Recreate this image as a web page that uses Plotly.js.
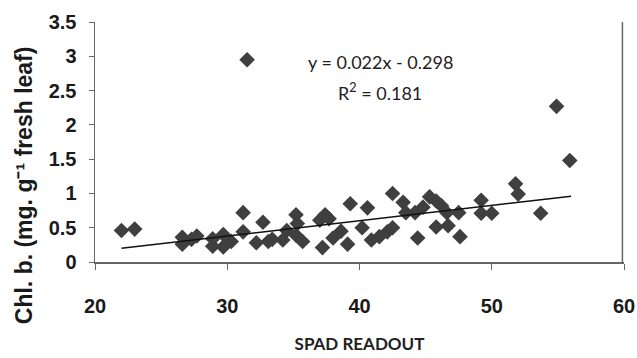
<!DOCTYPE html>
<html>
<head>
<meta charset="utf-8">
<script src="https://cdn.plot.ly/plotly-3.0.1.min.js"></script>
<style>html,body{margin:0;padding:0;background:#fff;}#chart{width:637px;height:358px;}</style>
</head>
<body>
<div id="chart"></div>
<script>
const spad = [22.0, 23.0, 26.6, 26.6, 27.3, 27.7, 28.9, 28.9, 29.7, 29.7, 30.3, 31.2, 31.2, 31.5, 32.2, 32.7, 33.1, 33.4, 34.2, 34.5,
  35.2, 35.3, 35.2, 35.7, 37.0, 37.4, 37.7, 37.2, 38.0, 38.6, 39.1, 39.3, 40.2, 40.6, 40.9, 41.5, 42.1, 42.5, 42.5, 43.3,
  43.5, 44.2, 44.4, 44.8, 45.3, 45.8, 45.8, 46.2, 46.6, 46.7, 47.5, 47.6, 49.2, 49.2, 50.0, 51.8, 52.0, 53.7, 54.9, 55.9];
const chlB = [0.46, 0.48, 0.36, 0.26, 0.33, 0.38, 0.34, 0.23, 0.40, 0.22, 0.30, 0.72, 0.44, 2.95, 0.28, 0.58, 0.30, 0.33, 0.32, 0.46,
  0.69, 0.56, 0.39, 0.30, 0.61, 0.69, 0.63, 0.21, 0.35, 0.45, 0.26, 0.85, 0.50, 0.79, 0.32, 0.37, 0.44, 0.50, 1.00, 0.87,
  0.72, 0.72, 0.35, 0.80, 0.95, 0.89, 0.51, 0.82, 0.72, 0.53, 0.72, 0.37, 0.90, 0.71, 0.71, 1.14, 0.99, 0.71, 2.27, 1.48];
const trendX = [22, 56];
const trendY = [0.20, 0.96];
const xTicks = [20, 30, 40, 50, 60];
const yTicks = [0, 0.5, 1, 1.5, 2, 2.5, 3, 3.5];
const yTickText = ['0', '0.5', '1', '1.5', '2', '2.5', '3', '3.5'];

const data = [
  {x: spad, y: chlB, mode: 'markers', type: 'scatter',
   marker: {symbol: 'diamond', size: 12, color: '#3f3f3f'}, hoverinfo: 'skip'},
  {x: trendX, y: trendY, mode: 'lines', type: 'scatter',
   line: {color: '#111', width: 1.5}, hoverinfo: 'skip'}
];

const tickFont = {family: 'Liberation Sans, Arial, sans-serif', size: 20, color: '#1a1a1a', weight: 'bold'};

const layout = {
  width: 637, height: 358,
  margin: {l: 95, r: 13, t: 22, b: 96},
  paper_bgcolor: '#fff', plot_bgcolor: '#fff',
  showlegend: false,
  xaxis: {
    range: [20, 60], tickvals: xTicks, ticktext: xTicks.map(String),
    showgrid: false, zeroline: false, showline: true, linecolor: '#666', linewidth: 1.5,
    ticks: 'outside', ticklen: 6, tickcolor: '#666', tickwidth: 1,
    tickfont: tickFont,
    ticklabelstandoff: 19,
    title: {text: '<b>SPAD READOUT</b>', font: {family: 'Lato, sans-serif', size: 17, color: '#222'}, standoff: 22}
  },
  yaxis: {
    range: [0, 3.5], tickvals: yTicks, ticktext: yTickText,
    showgrid: false, zeroline: false, showline: true, linecolor: '#666', linewidth: 1.5,
    ticks: 'outside', ticklen: 5, tickcolor: '#666', tickwidth: 1,
    tickfont: tickFont,
    ticklabelstandoff: 8
  },
  shapes: [
    {type: 'line', xref: 'paper', yref: 'paper', x0: 0.997, x1: 0.997, y0: 0, y1: 1,
     line: {color: '#666', width: 1.5}}
  ],
  annotations: [
    {text: '<b>Chl. b. (mg. g⁻¹ fresh leaf)</b>', xref: 'paper', yref: 'paper',
     x: 0, y: 0.32, xanchor: 'center', yanchor: 'middle', xshift: -71, textangle: -90,
     showarrow: false, font: {family: 'Liberation Sans, Arial, sans-serif', size: 23, color: '#1a1a1a'}},
    {text: 'y = 0.022x - 0.298', xref: 'paper', yref: 'paper',
     x: (380 - 95) / 529, y: (262 - 62) / 240, xanchor: 'center', yanchor: 'middle',
     showarrow: false, font: {family: 'Lato, sans-serif', size: 18, color: '#222'}},
    {text: 'R<sup>2</sup> = 0.181', xref: 'paper', yref: 'paper',
     x: (380 - 95) / 529, y: (262 - 92) / 240, xanchor: 'center', yanchor: 'middle',
     showarrow: false, font: {family: 'Lato, sans-serif', size: 18, color: '#222'}}
  ]
};

Plotly.newPlot('chart', data, layout, {displayModeBar: false, staticPlot: true});
</script>
</body>
</html>
